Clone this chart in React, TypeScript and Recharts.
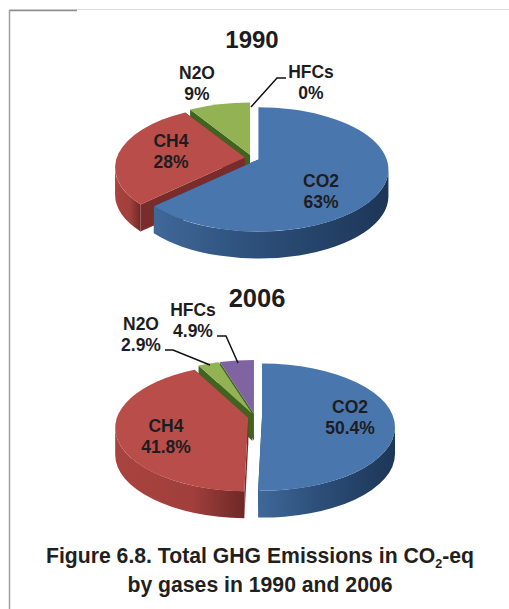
import { Pie, PieChart } from "recharts";

const gases1990 = ["HFCs", "N2O", "CH4", "CO2"];
const shares1990 = [0, 9, 28, 63];
const gases2006 = ["HFCs", "N2O", "CH4", "CO2"];
const shares2006 = [4.9, 2.9, 41.8, 50.4];

const data1990 = gases1990.map((name, i) => ({ name, value: shares1990[i] }));
const data2006 = gases2006.map((name, i) => ({ name, value: shares2006[i] }));

const SQUASH = 0.478;
const DEPTH = 27;
const TIP_LIFT = 10;
const EXPLODE = 7;

const FONT = '"Liberation Sans", Arial, sans-serif';
const INK = "#1d1d1f";

const COLORS: Record<string, { top: string; face: string; wall: string }> = {
  CO2: { top: "#4a76ae", face: "#1f3b5f", wall: "url(#wallBlue)" },
  CH4: { top: "#b84d4a", face: "#7a2c2a", wall: "url(#wallRed)" },
  N2O: { top: "#93b254", face: "#40641f", wall: "#40641f" },
  HFCs: { top: "#8064a2", face: "#40641f", wall: "#40641f" },
};

// label centre and first baseline, plus leader line where the original has one
const LABELS_1990: Record<string, { x: number; y: number; line?: string }> = {
  CO2: { x: 321, y: 187 },
  CH4: { x: 171, y: 147 },
  N2O: { x: 197, y: 79 },
  HFCs: { x: 311, y: 78, line: "251,107 277,78 286,78" },
};
const LABELS_2006: Record<string, { x: number; y: number; line?: string }> = {
  CO2: { x: 350, y: 413 },
  CH4: { x: 166, y: 432 },
  N2O: { x: 141, y: 330, line: "165,350 173,350 210,365" },
  HFCs: { x: 193, y: 316, line: "217,336 226,336 238,363" },
};

function Slice3D(props: any) {
  const { cx, cy, outerRadius, startAngle, endAngle, midAngle, name } = props;
  if (Math.abs(endAngle - startAngle) < 0.01) return null;
  const rx = outerRadius;
  const ry = outerRadius * SQUASH;
  const rad = (a: number) => (a * Math.PI) / 180;
  const ox = cx + EXPLODE * Math.cos(rad(midAngle));
  const oy = cy - EXPLODE * 0.5 * Math.sin(rad(midAngle));

  // the apex sits above the ellipse centre (perspective), so cast the slice
  // angle from the apex and find the matching angle on the rim
  const rimAngle = (a: number) => {
    const ca = Math.cos(rad(a));
    const sa = -Math.sin(rad(a));
    const l = TIP_LIFT / SQUASH;
    const t = sa * l + Math.sqrt(sa * sa * l * l - l * l + rx * rx);
    const x = t * ca;
    const y = -TIP_LIFT + t * SQUASH * sa;
    const p = (Math.atan2(-y / ry, x / rx) * 180) / Math.PI;
    return p + 360 * Math.round((a - p) / 360);
  };
  const from = rimAngle(startAngle);
  const to = rimAngle(endAngle);

  const pt = (a: number, drop = 0) =>
    `${ox + rx * Math.cos(rad(a))} ${oy - ry * Math.sin(rad(a)) + drop}`;
  const tip = (drop = 0) => `${ox} ${oy - TIP_LIFT + drop}`;
  const arc = (a: number, b: number, drop = 0, sweep = 0) =>
    `A ${rx} ${ry} 0 ${Math.abs(b - a) > 180 ? 1 : 0} ${sweep} ${pt(b, drop)}`;
  const c = COLORS[name];

  const wallFrom = Math.max(from, 180);
  const wallTo = Math.min(to, 360);

  return (
    <g>
      <path d={`M ${tip()} L ${pt(from)} L ${pt(from, DEPTH)} L ${tip(DEPTH)} Z`} fill={c.face} />
      <path d={`M ${tip()} L ${pt(to)} L ${pt(to, DEPTH)} L ${tip(DEPTH)} Z`} fill={c.face} />
      {wallTo > wallFrom && (
        <path
          d={`M ${pt(wallFrom)} ${arc(wallFrom, wallTo)} L ${pt(wallTo, DEPTH)} ${arc(wallTo, wallFrom, DEPTH, 1)} Z`}
          fill={c.wall}
        />
      )}
      <path d={`M ${tip()} L ${pt(from)} ${arc(from, to)} Z`} fill={c.top} />
    </g>
  );
}

const makeLabel =
  (spots: Record<string, { x: number; y: number; line?: string }>) => (props: any) => {
    const { name, value } = props;
    const s = spots[name];
    return (
      <g>
        {s.line && <polyline points={s.line} fill="none" stroke="#111" strokeWidth={1.5} />}
        <text
          x={s.x}
          y={s.y}
          textAnchor="middle"
          fontFamily={FONT}
          fontWeight="bold"
          fontSize={17.5}
          fill={INK}
        >
          <tspan x={s.x}>{name}</tspan>
          <tspan x={s.x} dy={21}>{`${value}%`}</tspan>
        </text>
      </g>
    );
  };

export default function App() {
  return (
    <div style={{ position: "absolute", left: 0, top: 0, width: 509, height: 609, background: "#fff" }}>
      <PieChart width={509} height={609} margin={{ top: 0, right: 0, bottom: 0, left: 0 }}>
        <defs>
          <linearGradient id="wallBlue" x1="0" y1="0" x2="1" y2="0">
            <stop offset="0" stopColor="#3f6899" />
            <stop offset="0.45" stopColor="#2c4e78" />
            <stop offset="1" stopColor="#1c3657" />
          </linearGradient>
          <linearGradient id="wallRed" x1="0" y1="0" x2="1" y2="0">
            <stop offset="0" stopColor="#a9433f" />
            <stop offset="0.6" stopColor="#a03f3c" />
            <stop offset="1" stopColor="#6f2826" />
          </linearGradient>
        </defs>

        {/* page frame */}
        <line x1={9} y1={9.5} x2={509} y2={9.5} stroke="#dddddd" strokeWidth={1} />
        <line x1={9} y1={10.5} x2={77} y2={10.5} stroke="#8e8e8e" strokeWidth={1.5} />
        <line x1={9.5} y1={10} x2={9.5} y2={609} stroke="#a0a0a0" strokeWidth={1.5} />

        <Pie
          data={data1990}
          dataKey="value"
          nameKey="name"
          cx={252}
          cy={168}
          outerRadius={130}
          startAngle={90}
          endAngle={450}
          stroke="none"
          shape={Slice3D}
          label={makeLabel(LABELS_1990)}
          labelLine={false}
          isAnimationActive={false}
        />
        <Pie
          data={data2006}
          dataKey="value"
          nameKey="name"
          cx={255}
          cy={427}
          outerRadius={133}
          startAngle={90}
          endAngle={450}
          stroke="none"
          shape={Slice3D}
          label={makeLabel(LABELS_2006)}
          labelLine={false}
          isAnimationActive={false}
        />

        <text x={252} y={48} textAnchor="middle" fontFamily={FONT} fontWeight="bold" fontSize={24} fill={INK}>
          1990
        </text>
        <text x={257} y={307} textAnchor="middle" fontFamily={FONT} fontWeight="bold" fontSize={25.5} fill={INK}>
          2006
        </text>

        <text x={260} y={563} textAnchor="middle" fontFamily={FONT} fontWeight="bold" fontSize={21.2} fill="#231f20">
          Figure 6.8. Total GHG Emissions in CO
          <tspan fontSize={12.5} dy={5}>2</tspan>
          <tspan dy={-5}>-eq</tspan>
        </text>
        <text x={260} y={592} textAnchor="middle" fontFamily={FONT} fontWeight="bold" fontSize={21.2} fill="#231f20">
          by gases in 1990 and 2006
        </text>
      </PieChart>
    </div>
  );
}
